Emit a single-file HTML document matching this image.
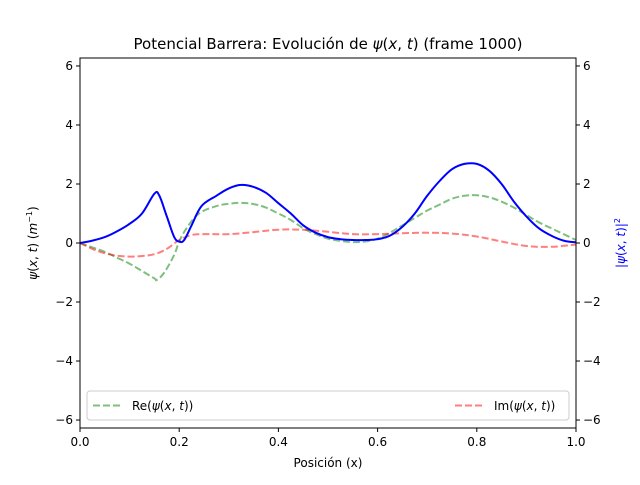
<!DOCTYPE html>
<html><head><meta charset="utf-8"><style>
body{margin:0;background:#fff;}
svg text{font-family:"DejaVu Sans","Liberation Sans",sans-serif;}
</style></head><body>
<svg id="c" width="640" height="480" xmlns="http://www.w3.org/2000/svg"></svg>
<script>
const xTicks=[0,0.2,0.4,0.6,0.8,1.0];
const xTickLabels=["0.0","0.2","0.4","0.6","0.8","1.0"];
const yTicks=[-6,-4,-2,0,2,4,6];
const yTickLabels=["−6","−4","−2","0","2","4","6"];
const probX=[0,0.025,0.05,0.075,0.1,0.125,0.15,0.16,0.175,0.19,0.2,0.21,0.225,0.245,0.275,0.3,0.325,0.35,0.375,0.4,0.425,0.45,0.475,0.5,0.525,0.55,0.575,0.6,0.625,0.65,0.675,0.7,0.725,0.75,0.775,0.8,0.825,0.85,0.875,0.9,0.925,0.95,0.975,1.0];
const probY=[0,0.08,0.2,0.4,0.65,1.0,1.67,1.6,0.9,0.2,0.05,0.1,0.6,1.25,1.6,1.85,1.97,1.9,1.7,1.35,1.0,0.6,0.35,0.2,0.13,0.1,0.1,0.13,0.25,0.55,1.0,1.6,2.1,2.5,2.68,2.68,2.45,2.0,1.4,0.9,0.5,0.25,0.08,0.02];
const reX=[0,0.025,0.05,0.075,0.1,0.125,0.15,0.155,0.17,0.19,0.2,0.215,0.24,0.275,0.3,0.325,0.35,0.375,0.4,0.425,0.45,0.475,0.5,0.525,0.55,0.575,0.6,0.625,0.65,0.675,0.7,0.725,0.75,0.775,0.8,0.825,0.85,0.875,0.9,0.925,0.95,0.975,1.0];
const reY=[0,-0.15,-0.3,-0.5,-0.7,-0.95,-1.2,-1.25,-1.0,-0.4,0.05,0.5,1.0,1.25,1.33,1.36,1.32,1.2,1.0,0.78,0.5,0.3,0.15,0.07,0.03,0.05,0.15,0.35,0.6,0.85,1.1,1.3,1.5,1.6,1.62,1.55,1.4,1.2,0.95,0.7,0.5,0.3,0.1];
const imX=[0,0.025,0.05,0.075,0.1,0.125,0.15,0.175,0.2,0.225,0.25,0.3,0.35,0.4,0.45,0.5,0.55,0.6,0.65,0.7,0.75,0.8,0.85,0.9,0.95,1.0];
const imY=[0,-0.2,-0.35,-0.43,-0.46,-0.44,-0.38,-0.2,0.1,0.27,0.3,0.3,0.37,0.45,0.45,0.38,0.3,0.3,0.33,0.35,0.32,0.22,0.05,-0.1,-0.13,-0.05];

const L=80,R=576,T=58,B=428,yMin=-6.27,yMax=6.27;
const sx=v=>L+(v-0)/(1-0)*(R-L);
const sy=v=>B-(v-yMin)/(yMax-yMin)*(B-T);
const svg=document.getElementById('c');
const NS='http://www.w3.org/2000/svg';
function mk(tag,attrs,parent){const e=document.createElementNS(NS,tag);for(const k in attrs)e.setAttribute(k,attrs[k]);(parent||svg).appendChild(e);return e;}
function txt(s,attrs){const e=mk('text',attrs);e.textContent=s;return e;}
function line(xs,ys,attrs,name){
  const P=xs.map((x,i)=>[sx(x),sy(ys[i])]);
  let d='M'+P[0][0].toFixed(1)+','+P[0][1].toFixed(1);
  const t=0.18;
  for(let i=0;i<P.length-1;i++){
    const p0=P[Math.max(i-1,0)],p1=P[i],p2=P[i+1],p3=P[Math.min(i+2,P.length-1)];
    const c1=[p1[0]+(p2[0]-p0[0])*t,p1[1]+(p2[1]-p0[1])*t];
    const c2=[p2[0]-(p3[0]-p1[0])*t,p2[1]-(p3[1]-p1[1])*t];
    d+='C'+c1[0].toFixed(1)+','+c1[1].toFixed(1)+' '+c2[0].toFixed(1)+','+c2[1].toFixed(1)+' '+p2[0].toFixed(1)+','+p2[1].toFixed(1);
  }
  const p=mk('path',Object.assign({d:d,fill:'none','stroke-linejoin':'round'},attrs));
  
  
}
line(reX,reY,{stroke:'green','stroke-opacity':0.5,'stroke-width':2,'stroke-dasharray':'7,3'},'re-psi-line');
line(imX,imY,{stroke:'red','stroke-opacity':0.5,'stroke-width':2,'stroke-dasharray':'7,3'},'im-psi-line');
line(probX,probY,{stroke:'blue','stroke-width':2},'prob-density-line');
const frame=mk('rect',{x:L,y:T,width:R-L,height:B-T,fill:'none',stroke:'#000','stroke-width':1});


xTicks.forEach((v,i)=>{
  mk('line',{x1:sx(v),x2:sx(v),y1:B,y2:B+4,stroke:'#000'});
  const t=txt(xTickLabels[i],{x:sx(v),y:B+18,'font-size':12,'text-anchor':'middle'});
  
  
});
yTicks.forEach((v,i)=>{
  mk('line',{x1:L-4,x2:L,y1:sy(v),y2:sy(v),stroke:'#000'});
  mk('line',{x1:R,x2:R+4,y1:sy(v),y2:sy(v),stroke:'#000'});
  const t=txt(yTickLabels[i],{x:L-7,y:sy(v)+4,'font-size':12,'text-anchor':'end'});
  
  
  const t2=txt(yTickLabels[i],{x:R+7,y:sy(v)+4,'font-size':12,'text-anchor':'start'});
  
  
});
</script>
<svg width="640" height="480" style="position:absolute;left:0;top:0" xmlns="http://www.w3.org/2000/svg">
<text x="328" y="49" font-size="15" text-anchor="middle" font-family="DejaVu Sans, Liberation Sans, sans-serif">Potencial Barrera: Evolución de <tspan font-style="italic">ψ</tspan>(<tspan font-style="italic">x</tspan>, <tspan font-style="italic">t</tspan>) (frame 1000)</text>
<text x="328" y="467" font-size="12" text-anchor="middle" font-family="DejaVu Sans, Liberation Sans, sans-serif">Posición (x)</text>
<text transform="translate(37,243) rotate(-90)" font-size="12" text-anchor="middle" font-family="DejaVu Sans, Liberation Sans, sans-serif"><tspan font-style="italic">ψ</tspan>(<tspan font-style="italic">x</tspan>, <tspan font-style="italic">t</tspan>) (<tspan font-style="italic">m</tspan><tspan font-size="8" dy="-5">−1</tspan><tspan dy="5">)</tspan></text>
<text transform="translate(625,243) rotate(-90)" font-size="12" fill="blue" text-anchor="middle" font-family="DejaVu Sans, Liberation Sans, sans-serif">|<tspan font-style="italic">ψ</tspan>(<tspan font-style="italic">x</tspan>, <tspan font-style="italic">t</tspan>)|<tspan font-size="8" dy="-5">2</tspan></text>
<g>
<rect x="87" y="391" width="482" height="29" rx="3" fill="#fff" fill-opacity="0.8" stroke="#ccc"/>
<line x1="93" x2="121" y1="405.5" y2="405.5" stroke="green" stroke-opacity="0.5" stroke-width="2" stroke-dasharray="7,3"/>
<text x="132" y="410" font-size="12" font-family="DejaVu Sans, Liberation Sans, sans-serif">Re(<tspan font-style="italic">ψ</tspan>(<tspan font-style="italic">x</tspan>, <tspan font-style="italic">t</tspan>))</text>
<line x1="455" x2="483" y1="405.5" y2="405.5" stroke="red" stroke-opacity="0.5" stroke-width="2" stroke-dasharray="7,3"/>
<text x="494" y="410" font-size="12" font-family="DejaVu Sans, Liberation Sans, sans-serif">Im(<tspan font-style="italic">ψ</tspan>(<tspan font-style="italic">x</tspan>, <tspan font-style="italic">t</tspan>))</text>
</g>
</svg>
</body></html>
